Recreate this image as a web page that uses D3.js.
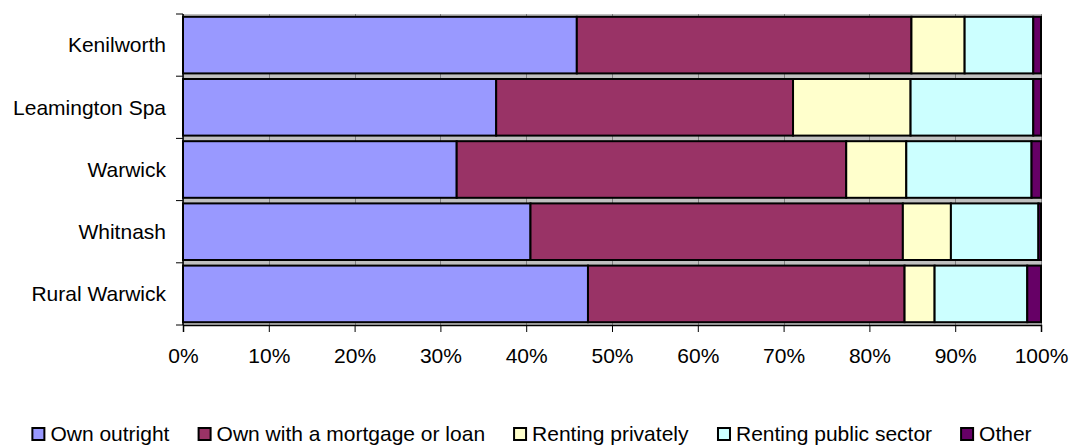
<!DOCTYPE html>
<html>
<head>
<meta charset="utf-8">
<script src="https://cdn.jsdelivr.net/npm/d3@7"></script>
<style>
  body { margin: 0; background: #fff; }
  text { font-family: Arial, "Liberation Sans", sans-serif; fill: #000; }
</style>
</head>
<body>
<div id="chart"></div>
<script>
// data (percent of households)
var places = ["Kenilworth", "Leamington Spa", "Warwick", "Whitnash", "Rural Warwick"];
var tenures = ["Own outright", "Own with a mortgage or loan", "Renting privately", "Renting public sector", "Other"];
var ownOutright = [45.9, 36.5, 31.9, 40.5, 47.2];
var ownMortgage = [39.0, 34.6, 45.4, 43.4, 36.9];
var rentPrivate = [6.2, 13.7, 7.0, 5.6, 3.5];
var rentPublic = [8.0, 14.3, 14.6, 10.2, 10.8];
var other = [0.9, 0.9, 1.1, 0.3, 1.6];
var xTicks = [0, 10, 20, 30, 40, 50, 60, 70, 80, 90, 100];

var colors = ["#9999ff", "#993366", "#ffffcc", "#ccffff", "#660066"];
var fontSize = "21px";

var W = 1073, H = 447;
var margin = {top: 14, right: 32, bottom: 122, left: 183};
var width = W - margin.left - margin.right;
var height = H - margin.top - margin.bottom;

var rows = places.map(function(p, i) {
  return {place: p, s0: ownOutright[i], s1: ownMortgage[i], s2: rentPrivate[i], s3: rentPublic[i], s4: other[i]};
});
var keys = ["s0", "s1", "s2", "s3", "s4"];
var series = d3.stack().keys(keys)(rows);

var svg = d3.select("#chart").append("svg")
  .attr("width", W).attr("height", H);

var g = svg.append("g")
  .attr("transform", "translate(" + margin.left + "," + margin.top + ")");

var x = d3.scaleLinear().domain([0, 100]).range([0, width]);
var y = d3.scaleBand().domain(places).range([0, height])
  .paddingInner(0.09).paddingOuter(0.045);
var step = y.step();

// plot background + gridlines
g.append("rect").attr("width", width).attr("height", height).attr("fill", "#c0c0c0");
g.selectAll(".grid").data(xTicks).enter().append("line")
  .attr("x1", function(d) { return Math.round(x(d)) + 0.5; })
  .attr("x2", function(d) { return Math.round(x(d)) + 0.5; })
  .attr("y1", 0).attr("y2", height)
  .attr("stroke", "#808080").attr("stroke-width", 1);

// bars
g.selectAll(".layer").data(series).enter().append("g")
  .attr("fill", function(d, i) { return colors[i]; })
  .selectAll("rect").data(function(d) { return d; }).enter().append("rect")
    .attr("x", function(d) { return x(d[0]); })
    .attr("y", function(d) { return y(d.data.place); })
    .attr("width", function(d) { return x(d[1]) - x(d[0]); })
    .attr("height", y.bandwidth())
    .attr("stroke", "#000").attr("stroke-width", 2);

// x axis
var xAxis = d3.axisBottom(x).tickValues(xTicks).tickSize(7).tickPadding(16)
  .tickFormat(function(d) { return d + "%"; });
var gx = g.append("g").attr("transform", "translate(0," + height + ")").call(xAxis);
gx.select(".domain").attr("stroke", "#000").attr("stroke-width", 1.5);
gx.selectAll(".tick line").attr("stroke", "#000");
gx.selectAll("text").attr("font-size", fontSize).style("font-family", "Arial, 'Liberation Sans', sans-serif");

// y axis: ticks sit at the band edges
var gy = g.append("g");
gy.append("line").attr("x1", 0).attr("x2", 0).attr("y1", 0).attr("y2", height)
  .attr("stroke", "#000").attr("stroke-width", 1.5);
gy.selectAll(".edge").data(d3.range(places.length + 1)).enter().append("line")
  .attr("x1", -7).attr("x2", 0)
  .attr("y1", function(i) { return i * step; })
  .attr("y2", function(i) { return i * step; })
  .attr("stroke", "#000");
gy.selectAll(".lab").data(places).enter().append("text")
  .attr("x", -17)
  .attr("y", function(d) { return y(d) + y.bandwidth() / 2; })
  .attr("dy", "0.35em")
  .attr("text-anchor", "end")
  .attr("font-size", fontSize)
  .text(function(d) { return d; });

// legend
var legend = svg.append("g").attr("transform", "translate(0,434)");
var items = legend.selectAll(".item").data(tenures).enter().append("g");
items.append("rect")
  .attr("x", 1).attr("y", -6).attr("width", 12).attr("height", 12)
  .attr("fill", function(d, i) { return colors[i]; })
  .attr("stroke", "#000").attr("stroke-width", 2);
items.append("text")
  .attr("x", 19).attr("dy", "0.35em")
  .attr("font-size", fontSize)
  .text(function(d) { return d; });

var widths = [];
items.each(function() { widths.push(this.getBBox().width); });
var gap = 29;
var total = d3.sum(widths) + gap * (widths.length - 1);
var pos = 531 - total / 2;
items.attr("transform", function(d, i) {
  var t = "translate(" + pos + ",0)";
  pos += widths[i] + gap;
  return t;
});
</script>
</body>
</html>
